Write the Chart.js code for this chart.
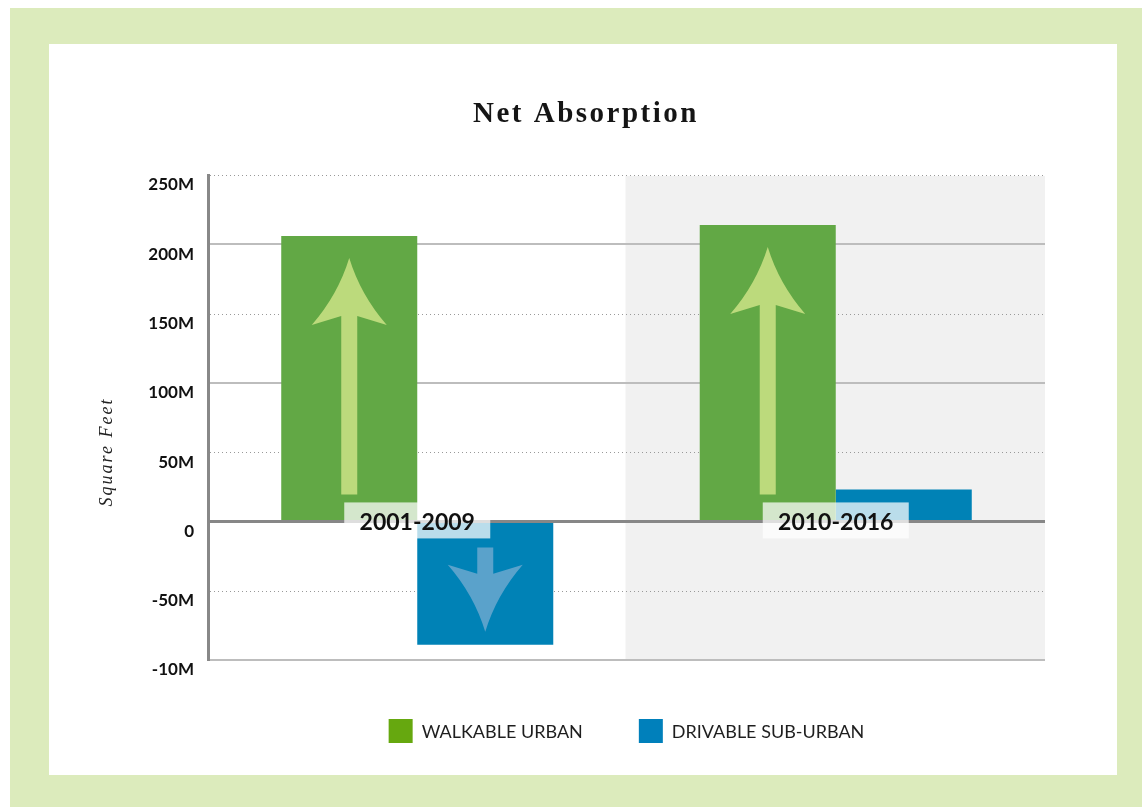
<!DOCTYPE html>
<html>
<head>
<meta charset="utf-8">
<script src="https://cdn.jsdelivr.net/npm/chart.js@4.4.1/dist/chart.umd.min.js"></script>
<style>
  body { margin: 0; background: #fff; }
  canvas { display: block; }
</style>
</head>
<body>
<canvas id="chart" width="1142" height="807"></canvas>
<script>
// values in millions of square feet
var categories = ['2001-2009', '2010-2016'];
var walkable = [206, 214];
var drivable = [-89, 23];
var seriesNames = ['WALKABLE URBAN', 'DRIVABLE SUB-URBAN'];
var tickValues = [-100, -50, 0, 50, 100, 150, 200, 250];
var tickLabels = ['-10M', '-50M', '0', '50M', '100M', '150M', '200M', '250M'];

var barColors = ['#62a845', '#0082b6'];
var legendColors = ['#66a80f', '#0080bb'];
var arrowColors = ['#bcda7c', '#5aa2cb'];

// up/down arrow inside a bar
function drawArrow(ctx, cx, tipY, tailY, dir, color) {
  var headLen = 67, hw = 37.5, sw = 8, back = 9;
  var wingY = tipY - dir * headLen;
  var neckY = wingY + dir * back;
  var cy = tipY - dir * headLen * 0.55;
  ctx.beginPath();
  ctx.moveTo(cx, tipY);
  ctx.quadraticCurveTo(cx - hw * 0.3, cy, cx - hw, wingY);
  ctx.lineTo(cx - sw, neckY);
  ctx.lineTo(cx - sw, tailY);
  ctx.lineTo(cx + sw, tailY);
  ctx.lineTo(cx + sw, neckY);
  ctx.lineTo(cx + hw, wingY);
  ctx.quadraticCurveTo(cx + hw * 0.3, cy, cx, tipY);
  ctx.closePath();
  ctx.fillStyle = color;
  ctx.fill();
}

var decor = {
  id: 'decor',
  beforeDraw: function(chart) {
    var ctx = chart.ctx;
    ctx.save();
    ctx.fillStyle = '#fff';
    ctx.fillRect(0, 0, chart.width, chart.height);
    ctx.fillStyle = '#dcebbc';
    ctx.fillRect(10, 8, chart.width - 10, chart.height - 8);
    ctx.fillStyle = '#fff';
    ctx.fillRect(49, 44, 1068, 731);

    ctx.fillStyle = '#151515';
    ctx.textAlign = 'center';
    ctx.textBaseline = 'alphabetic';
    ctx.font = 'bold 29px "Liberation Serif"';
    ctx.letterSpacing = '2.5px';
    ctx.fillText('Net Absorption', 586, 122);

    ctx.translate(107, 452);
    ctx.rotate(-Math.PI / 2);
    ctx.fillStyle = '#222';
    ctx.font = 'italic 18px "Liberation Serif"';
    ctx.letterSpacing = '2px';
    ctx.textBaseline = 'middle';
    ctx.fillText('Square Feet', 0, 0);
    ctx.restore();
  },
  beforeDatasetsDraw: function(chart) {
    var ctx = chart.ctx, a = chart.chartArea;
    var x = chart.scales.x, y = chart.scales.y;
    ctx.save();
    // grey band behind second period
    var mid = (x.getPixelForValue(0) + x.getPixelForValue(1)) / 2 - 1;
    ctx.fillStyle = '#f1f1f1';
    ctx.fillRect(mid, a.top + 1, a.right - mid, a.bottom - a.top - 1);

    y.ticks.forEach(function(t) {
      if (t.value === 0) return;
      var py = Math.round(y.getPixelForValue(t.value));
      ctx.beginPath();
      if (t.value % 100 === 0) {
        ctx.setLineDash([]);
        ctx.strokeStyle = '#bdbdbd';
        ctx.lineWidth = 2;
      } else {
        ctx.setLineDash([1, 3]);
        ctx.strokeStyle = '#999';
        ctx.lineWidth = 1;
        py += 0.5;
      }
      ctx.moveTo(a.left + 2, py);
      ctx.lineTo(a.right, py);
      ctx.stroke();
    });
    ctx.restore();
  },
  afterDatasetsDraw: function(chart) {
    var ctx = chart.ctx, a = chart.chartArea;
    var x = chart.scales.x, y = chart.scales.y;
    ctx.save();
    chart.data.datasets.forEach(function(ds, di) {
      var meta = chart.getDatasetMeta(di);
      meta.data.forEach(function(bar, i) {
        var v = ds.data[i];
        if (Math.abs(v) < 50) return;
        var p = bar.getProps(['x', 'y', 'base'], true);
        if (v > 0) drawArrow(ctx, p.x, p.y + 22, p.base - 27, -1, arrowColors[di]);
        else drawArrow(ctx, p.x, p.y - 13, p.base + 26, 1, arrowColors[di]);
      });
    });

    // zero line
    var zy = y.getPixelForValue(0);
    ctx.beginPath();
    ctx.strokeStyle = '#878787';
    ctx.lineWidth = 3;
    ctx.moveTo(a.left, zy);
    ctx.lineTo(a.right, zy);
    ctx.stroke();

    // period labels on the zero line
    ctx.font = 'bold 23px Lato';
    ctx.textAlign = 'center';
    ctx.textBaseline = 'middle';
    categories.forEach(function(c, i) {
      var cx = x.getPixelForValue(i);
      ctx.fillStyle = 'rgba(255,255,255,0.73)';
      ctx.fillRect(cx - 73, zy - 19, 146, 36);
      ctx.fillStyle = '#111';
      ctx.fillText(c, cx, zy + 1);
    });
    ctx.restore();
  },
  afterDraw: function(chart) {
    var ctx = chart.ctx, a = chart.chartArea;
    ctx.save();
    ctx.font = '18px Lato';
    ctx.textBaseline = 'middle';
    ctx.textAlign = 'left';
    var box = 24, gap = 9, itemGap = 56;
    var widths = chart.data.datasets.map(function(ds) { return ctx.measureText(ds.label).width; });
    var total = box * 2 + gap * 2 + itemGap + widths[0] + widths[1];
    var lx = (a.left + a.right) / 2 - total / 2;
    var ly = a.bottom + 59;
    chart.data.datasets.forEach(function(ds, i) {
      ctx.fillStyle = legendColors[i];
      ctx.fillRect(lx, ly, box, box);
      ctx.fillStyle = '#1e1e1e';
      ctx.fillText(ds.label, lx + box + gap, ly + box / 2 + 1);
      lx += box + gap + widths[i] + itemGap;
    });
    ctx.restore();
  }
};

new Chart(document.getElementById('chart'), {
  type: 'bar',
  data: {
    labels: categories,
    datasets: [
      { label: seriesNames[0], data: walkable, backgroundColor: barColors[0] },
      { label: seriesNames[1], data: drivable, backgroundColor: barColors[1] }
    ]
  },
  options: {
    responsive: false,
    animation: false,
    events: [],
    layout: { padding: { top: 175, bottom: 147, left: 138, right: 97 } },
    datasets: { bar: { categoryPercentage: 0.65, barPercentage: 1.0, borderWidth: 0 } },
    plugins: {
      legend: { display: false },
      title: { display: false },
      tooltip: { enabled: false }
    },
    scales: {
      x: { display: false },
      y: {
        min: -100,
        max: 250,
        afterFit: function(scale) { scale.width = 70; },
        grid: { display: false },
        border: { display: true, color: '#888', width: 3 },
        ticks: {
          stepSize: 50,
          padding: 6,
          labelOffset: 10,
          color: '#111',
          font: { family: 'Lato', weight: 'bold', size: 17 },
          callback: function(v) { return tickLabels[tickValues.indexOf(v)]; }
        }
      }
    }
  },
  plugins: [decor]
});
</script>
</body>
</html>
